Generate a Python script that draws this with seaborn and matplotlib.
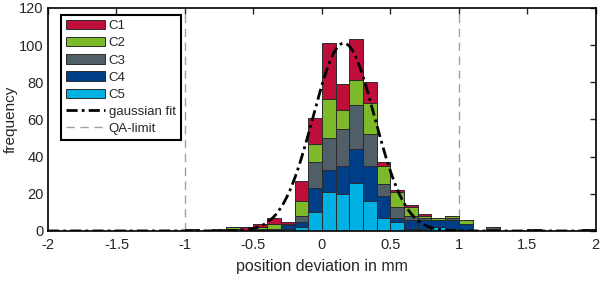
import numpy as np
import pandas as pd
import seaborn as sns
import matplotlib.pyplot as plt
from matplotlib.patches import Patch
from matplotlib.lines import Line2D

# bin centres (bin width 0.1 mm) that have any counts
centers = [-0.95, -0.75, -0.65, -0.55, -0.45, -0.35, -0.25, -0.15, -0.05, 0.05,
           0.15, 0.25, 0.35, 0.45, 0.55, 0.65, 0.75, 0.85, 0.95, 1.05,
           1.25, 1.55, 1.95]
c1 = [0, 1, 0, 2, 2, 3, 1, 11, 14, 30, 14, 22, 11, 2, 1, 1, 1, 0, 0, 0, 0, 0, 0]
c2 = [1, 0, 1, 0, 1, 3, 0, 8, 10, 21, 10, 13, 17, 10, 8, 5, 1, 1, 1, 2, 0, 0, 0]
c3 = [0, 0, 0, 0, 1, 1, 1, 3, 14, 17, 20, 24, 17, 6, 6, 2, 1, 0, 1, 0, 1, 0, 0]
c4 = [0, 0, 0, 0, 0, 0, 2, 3, 13, 12, 15, 18, 19, 12, 2, 5, 5, 4, 5, 4, 1, 1, 1]
c5 = [0, 0, 1, 0, 0, 0, 1, 2, 10, 21, 20, 26, 16, 7, 5, 1, 1, 2, 1, 0, 0, 0, 0]
classes = ["C1", "C2", "C3", "C4", "C5"]
colors = ["#BE0F3A", "#7DBA2A", "#505E68", "#003F87", "#00B2E3"]

# gaussian fit parameters
fit_mu = 0.16
fit_sigma = 0.225
fit_peak = 101
qa_limits = [-1, 1]

rows = []
for name, counts in zip(classes, [c1, c2, c3, c4, c5]):
    for x, n in zip(centers, counts):
        rows.append({"x": x, "n": n, "class": name})
df = pd.DataFrame(rows)

sns.set_style("white")
plt.rcParams["font.family"] = ["Liberation Sans", "DejaVu Sans"]

fig = plt.figure(figsize=(6, 2.81), dpi=100)
ax = fig.add_axes([0.08, 0.178, 0.913, 0.794])

sns.histplot(data=df, x="x", weights="n", hue="class", hue_order=classes,
             multiple="stack", binwidth=0.1, binrange=(-2, 2), palette=colors,
             alpha=1, edgecolor="#2b2b2b", linewidth=0.7, legend=False, ax=ax)

gx = np.linspace(-2, 2, 400)
gy = fit_peak * np.exp(-0.5 * ((gx - fit_mu) / fit_sigma) ** 2)
ax.plot(gx, gy, color="black", lw=2, ls=(0, (4, 1.5, 1, 1.5)), zorder=5)

for q in qa_limits:
    ax.axvline(q, color="#a0a0a0", lw=1, ls=(0, (6, 4)), zorder=0)

ax.set_xlim(-2, 2)
ax.set_ylim(0, 120)
ax.set_xticks([-2, -1.5, -1, -0.5, 0, 0.5, 1, 1.5, 2])
ax.set_xticklabels(["-2", "-1.5", "-1", "-0.5", "0", "0.5", "1", "1.5", "2"])
ax.set_yticks(range(0, 121, 20))
ax.tick_params(direction="in", top=True, right=True, length=4, width=1,
               labelsize=10.5)
ax.tick_params(axis="x", pad=5)
ax.tick_params(axis="y", pad=3)
for s in ax.spines.values():
    s.set_linewidth(1.2)
    s.set_color("black")
ax.set_xlabel("position deviation in mm", fontsize=11.5, labelpad=5)
ax.set_ylabel("frequency", fontsize=11, labelpad=1)

handles = [Patch(facecolor=c, edgecolor="#2b2b2b", lw=0.7) for c in colors]
handles.append(Line2D([], [], color="black", lw=2, ls=(0, (4, 1.5, 1, 1.5))))
handles.append(Line2D([], [], color="#a0a0a0", lw=1, ls=(0, (6, 4))))
labels = classes + ["gaussian fit", "QA-limit"]
leg = ax.legend(handles, labels, loc="upper left", bbox_to_anchor=(0.024, 0.969),
                fontsize=9.5, handlelength=2.9, handletextpad=0.3,
                labelspacing=0.37, borderpad=0.4, fancybox=False,
                framealpha=1, edgecolor="black", borderaxespad=0)
leg.get_frame().set_linewidth(1.5)

fig.savefig("out.png", dpi=100)
